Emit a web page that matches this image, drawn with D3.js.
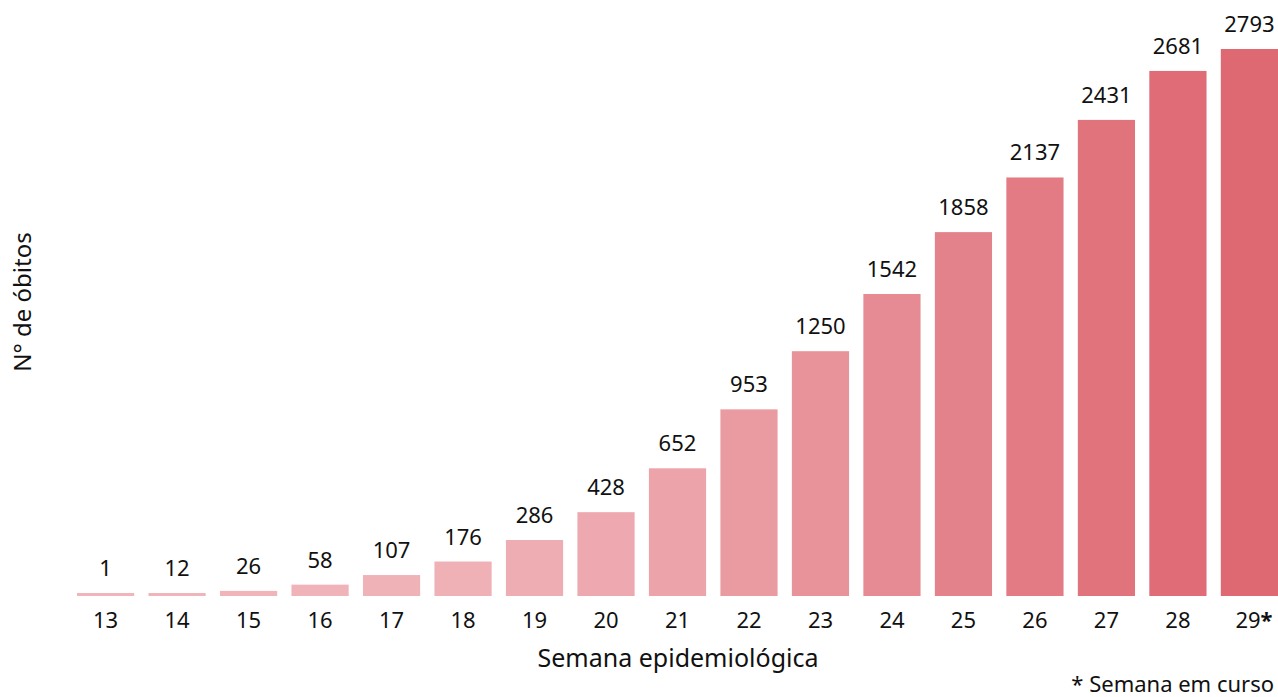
<!DOCTYPE html>
<html>
<head>
<meta charset="utf-8">
<script src="https://cdn.jsdelivr.net/npm/d3@7"></script>
<style>
  body { margin: 0; background: #fff; }
  text { font-family: "Noto Sans", "Open Sans", sans-serif; fill: #111; }
</style>
</head>
<body>
<svg id="drawing_region"></svg>
<script>
const weeks = ['13','14','15','16','17','18','19','20','21','22','23','24','25','26','27','28','29']
const deaths = [1, 12, 26, 58, 107, 176, 286, 428, 652, 953, 1250, 1542, 1858, 2137, 2431, 2681, 2793]
const currentWeek = '29'

const width = 1278, height = 697
const baseline = 596, plotTop = 49

const svg = d3.select('#drawing_region')
  .attr('width', width)
  .attr('height', height)

const data = weeks.map((w, i) => ({label: w, value: deaths[i]}))

const xscale = d3.scaleBand().domain(weeks).range([77, 1278]).paddingInner(0.2).paddingOuter(0)
const yscale = d3.scaleLinear().domain([0, d3.max(deaths)]).range([baseline, plotTop])
// colour follows the value
const color = d3.scaleLinear().domain([0, d3.max(deaths)]).range(['#f0b5ba', '#de6973']).interpolate(d3.interpolateRgb)

// bars
svg.append('g').selectAll('rect').data(data).enter()
  .append('rect')
  .attr('x', d => xscale(d.label))
  .attr('y', d => Math.min(yscale(d.value), baseline - 3))
  .attr('width', xscale.bandwidth())
  .attr('height', d => Math.max(baseline - yscale(d.value), 3))
  .attr('fill', d => color(d.value))

// value labels
svg.append('g').selectAll('text').data(data).enter()
  .append('text')
  .attr('x', d => xscale(d.label) + xscale.bandwidth() / 2)
  .attr('y', d => Math.min(yscale(d.value), baseline - 3) - 17)
  .attr('text-anchor', 'middle')
  .attr('font-size', 22)
  .text(d => d.value)

// x axis
const xaxis = d3.axisBottom(xscale).tickSize(0).tickPadding(0)
const xg = svg.append('g').attr('transform', `translate(0,${baseline})`).call(xaxis)
xg.select('.domain').remove()
xg.selectAll('.tick text')
  .attr('font-size', 22)
  .attr('font-family', '"Noto Sans", sans-serif')
  .attr('fill', '#111')
  .attr('dy', 0)
  .attr('y', 32)
xg.selectAll('.tick').filter(d => d === currentWeek).select('text')
  .attr('text-anchor', 'start')
  .attr('x', -14)
  .append('tspan')
  .attr('font-weight', 'bold')
  .text('*')

svg.append('text')
  .attr('x', 678)
  .attr('y', 667)
  .attr('text-anchor', 'middle')
  .attr('font-size', 25)
  .text('Semana epidemiológica')

svg.append('text')
  .attr('transform', `translate(31,302) rotate(-90)`)
  .attr('text-anchor', 'middle')
  .attr('font-size', 24)
  .text('N° de óbitos')

svg.append('text')
  .attr('x', 1274)
  .attr('y', 692)
  .attr('text-anchor', 'end')
  .attr('font-size', 22)
  .text('* Semana em curso')
</script>
</body>
</html>
